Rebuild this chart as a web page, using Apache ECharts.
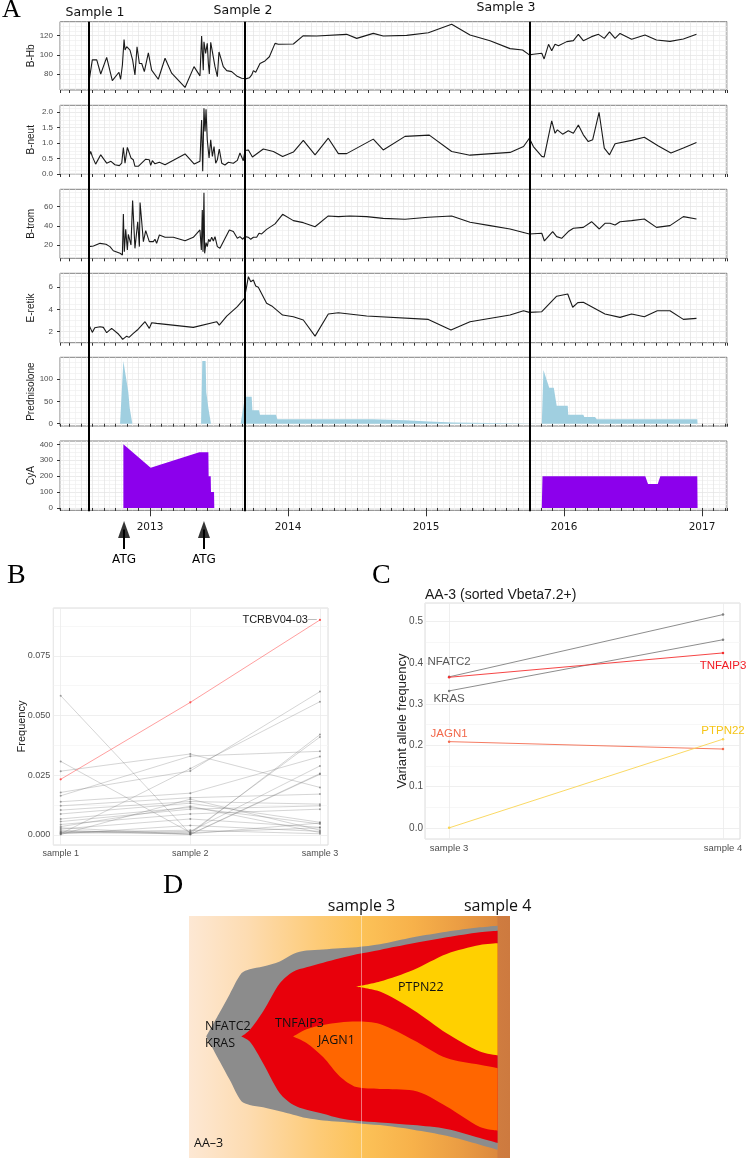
<!DOCTYPE html>
<html><head><meta charset="utf-8">
<script src="https://cdn.jsdelivr.net/npm/echarts@6/dist/echarts.min.js"></script>
<style>html,body{margin:0;padding:0;background:#fff}#c{width:748px;height:1159px}</style>
</head><body><div id="c"></div>
<script>
// ---------------- Panel A data (x = decimal year) ----------------
const hbData = [[2012.558,72],[2012.570,74],[2012.582,94.7],[2012.614,94.7],[2012.643,80],[2012.686,97.4],[2012.727,73],[2012.775,81.8],[2012.787,74.5],[2012.800,89.4],[2012.812,116],[2012.819,105],[2012.831,108.5],[2012.855,105],[2012.874,94.7],[2012.891,79],[2012.906,108.5],[2012.923,91],[2012.940,91],[2012.959,82.5],[2012.988,102],[2013.012,84],[2013.060,74.5],[2013.109,96.4],[2013.157,80.8],[2013.254,66],[2013.319,87.7],[2013.362,78],[2013.374,119.7],[2013.386,84],[2013.391,113.7],[2013.403,101.6],[2013.415,112],[2013.423,91],[2013.430,80],[2013.440,113],[2013.452,112],[2013.471,87.7],[2013.488,77.3],[2013.500,103],[2013.514,96.4],[2013.531,87.7],[2013.556,83.5],[2013.592,82.5],[2013.628,78],[2013.664,75.6],[2013.700,75.2],[2013.720,76],[2013.737,79],[2013.749,83.5],[2013.766,81.8],[2013.797,91],[2013.833,93.6],[2013.865,98],[2013.906,112],[2013.930,111],[2014.039,111.3],[2014.111,120],[2014.208,119.7],[2014.425,121.4],[2014.498,117.2],[2014.618,122.4],[2014.690,119.7],[2014.860,120.3],[2015.017,123],[2015.186,132],[2015.319,120.7],[2015.464,114.8],[2015.609,106.5],[2015.700,105],[2015.749,100],[2015.778,100.6],[2015.839,101.6],[2015.856,95.7],[2015.888,111],[2015.911,104.4],[2015.935,111],[2015.960,109.6],[2016.020,113.8],[2016.068,114.8],[2016.104,121.4],[2016.140,114.8],[2016.200,119],[2016.250,121.4],[2016.292,117.2],[2016.330,124],[2016.370,117.2],[2016.406,122.4],[2016.490,116.2],[2016.587,120.7],[2016.670,115.5],[2016.768,114.1],[2016.865,116.5],[2016.960,121.4]];
const neutData = [[2012.558,0.57],[2012.570,0.73],[2012.582,0.57],[2012.606,0.32],[2012.643,0.62],[2012.686,0.35],[2012.717,0.41],[2012.746,0.30],[2012.778,0.27],[2012.795,0.35],[2012.807,0.86],[2012.819,0.35],[2012.836,0.86],[2012.862,0.52],[2012.879,0.46],[2012.891,0.25],[2012.915,0.25],[2012.969,0.48],[2012.995,0.46],[2013.005,0.28],[2013.017,0.43],[2013.036,0.33],[2013.068,0.38],[2013.109,0.30],[2013.254,0.65],[2013.321,0.32],[2013.362,0.41],[2013.374,1.75],[2013.382,0.09],[2013.391,2.13],[2013.399,1.38],[2013.406,2.10],[2013.415,1.11],[2013.428,0.52],[2013.440,1.11],[2013.452,0.57],[2013.464,0.89],[2013.476,0.35],[2013.488,0.46],[2013.502,0.81],[2013.520,0.35],[2013.543,0.29],[2013.568,0.38],[2013.604,0.35],[2013.633,0.44],[2013.652,0.68],[2013.676,0.43],[2013.688,0.76],[2013.713,0.78],[2013.742,0.55],[2013.821,0.81],[2013.894,0.73],[2013.961,0.57],[2014.039,0.71],[2014.111,1.09],[2014.196,0.62],[2014.292,1.16],[2014.365,0.66],[2014.425,0.66],[2014.618,1.13],[2014.690,0.78],[2014.848,1.22],[2015.024,1.26],[2015.186,0.73],[2015.319,0.61],[2015.609,0.70],[2015.707,0.89],[2015.749,1.16],[2015.778,0.89],[2015.839,0.57],[2015.856,0.55],[2015.911,1.72],[2015.935,1.32],[2015.952,1.43],[2015.990,1.29],[2016.031,1.40],[2016.068,1.32],[2016.104,1.59],[2016.140,1.27],[2016.176,1.05],[2016.208,1.11],[2016.254,2.00],[2016.292,0.84],[2016.330,0.62],[2016.370,0.98],[2016.490,1.09],[2016.582,1.19],[2016.684,0.91],[2016.775,0.68],[2016.865,0.84],[2016.960,1.02]];
const tromData = [[2012.558,18.3],[2012.590,19],[2012.638,21.7],[2012.681,20.7],[2012.710,18.3],[2012.734,14],[2012.783,11.3],[2012.800,9.6],[2012.807,52.3],[2012.814,13],[2012.824,36.3],[2012.836,14.8],[2012.843,31],[2012.862,20],[2012.874,66.3],[2012.891,16.5],[2012.911,44.3],[2012.923,18.3],[2012.928,64.2],[2012.940,44.3],[2012.952,23.5],[2012.969,35],[2012.995,23.5],[2013.024,23.5],[2013.036,26],[2013.048,21.7],[2013.068,30.4],[2013.109,28],[2013.169,28],[2013.254,24.5],[2013.314,28],[2013.362,35.7],[2013.372,14.8],[2013.379,56.5],[2013.384,13],[2013.391,74.6],[2013.396,11.3],[2013.406,22.4],[2013.415,18.3],[2013.425,26],[2013.435,23.5],[2013.447,28],[2013.459,24.2],[2013.471,28.7],[2013.488,18.3],[2013.507,16.5],[2013.519,20],[2013.575,35.7],[2013.604,34],[2013.616,35.7],[2013.633,27],[2013.652,28.7],[2013.672,26],[2013.688,28.7],[2013.713,28],[2013.730,26],[2013.749,28],[2013.773,28],[2013.790,32.2],[2013.809,31.5],[2013.845,36.3],[2013.906,42],[2013.961,52],[2014.039,45.4],[2014.111,43.3],[2014.196,39],[2014.292,50.3],[2014.365,49.6],[2014.449,50.3],[2014.570,49.6],[2014.690,47.8],[2014.848,46.8],[2015.017,48.9],[2015.186,50.3],[2015.319,43.7],[2015.464,40.2],[2015.609,36.7],[2015.749,31.5],[2015.839,32.2],[2015.858,24.2],[2015.918,34],[2015.947,28.7],[2015.983,27],[2016.031,34],[2016.068,37.4],[2016.140,38.4],[2016.200,44.3],[2016.256,36.7],[2016.297,42.6],[2016.333,42.6],[2016.370,40.9],[2016.406,44.3],[2016.490,45.4],[2016.582,47.1],[2016.670,38.4],[2016.768,40.2],[2016.865,49.6],[2016.960,47.1]];
const retikData = [[2012.558,2.6],[2012.570,2.6],[2012.582,1.94],[2012.600,2.36],[2012.638,2.45],[2012.662,2.39],[2012.686,1.91],[2012.722,2.3],[2012.771,1.79],[2012.787,1.55],[2012.802,1.31],[2012.831,1.6],[2012.848,1.49],[2012.879,1.85],[2012.908,2.15],[2012.964,2.9],[2012.995,2.3],[2013.012,2.81],[2013.048,2.75],[2013.314,2.39],[2013.483,2.9],[2013.502,2.6],[2013.556,3.41],[2013.633,4.26],[2013.684,5.0],[2013.700,6.06],[2013.713,6.96],[2013.730,6.5],[2013.749,6.66],[2013.766,6.12],[2013.785,6.0],[2013.797,6.12],[2013.845,4.56],[2013.882,4.32],[2013.961,3.5],[2014.039,3.35],[2014.111,3.05],[2014.196,1.6],[2014.292,3.6],[2014.365,3.71],[2014.570,3.41],[2015.017,3.11],[2015.181,2.15],[2015.319,2.9],[2015.609,3.5],[2015.707,3.89],[2015.749,3.74],[2015.839,3.8],[2015.947,5.2],[2016.027,5.4],[2016.063,4.2],[2016.100,4.62],[2016.140,4.65],[2016.297,3.6],[2016.406,3.29],[2016.490,3.6],[2016.582,3.35],[2016.676,3.89],[2016.768,3.89],[2016.865,3.11],[2016.960,3.2]];
const predData = [[2012.783,0],[2012.807,140],[2012.819,140],[2012.843,70],[2012.853,35],[2012.862,35],[2012.872,0],[2013.370,0],[2013.379,140],[2013.403,140],[2013.408,70],[2013.418,70],[2013.423,35],[2013.430,35],[2013.442,0],[2013.657,0],[2013.688,60],[2013.737,60],[2013.742,30],[2013.790,30],[2013.797,20],[2013.913,20],[2013.923,10],[2014.614,10],[2014.623,7.5],[2014.848,7.5],[2014.850,5],[2015.020,5],[2015.022,2.5],[2015.198,2.5],[2015.200,0],[2015.839,0],[2015.851,120],[2015.893,80],[2015.926,80],[2015.947,40],[2016.027,40],[2016.031,20],[2016.140,20],[2016.147,15],[2016.225,15],[2016.237,10],[2016.966,10],[2016.968,0]];
const cyaData = [[2012.807,0],[2012.807,400],[2012.814,396],[2013.005,253],[2013.357,350],[2013.423,350],[2013.425,200],[2013.440,200],[2013.442,100],[2013.464,100],[2013.466,0],[2015.839,0],[2015.844,200],[2016.589,200],[2016.609,150],[2016.679,150],[2016.698,200],[2016.966,200],[2016.968,0]];
const sampleDates = [2012.558, 2013.684, 2015.754];
const sampleNames = ['Sample 1', 'Sample 2', 'Sample 3'];
const atgDates = [2012.812, 2013.391];
const yearTicks = [2013, 2014, 2015, 2016, 2017];

// ---------------- Panel B data ----------------
const freqCategories = ['sample 1', 'sample 2', 'sample 3'];
const freqS1 = [0.0583,0.0308,0.0267,0.0178,0.0005,0.0164,0.0139,0.0122,0.0104,0.0088,0.0067,0.0056,0.0044,0.0025,0.0010,0.0015,0.0008,0.0030,0.0020,0.0005,0.0012,0.0035,0.0002];
const freqS2 = [0.0005,0.0010,0.0339,0.0268,0.0278,0.0330,0.0175,0.0156,0.0140,0.0133,0.0115,0.0108,0.0088,0.0067,0.0005,0.0010,0.0015,0.0003,0.0002,0.0040,0.0020,0.0120,0.0150];
const freqS3 = [0.0050,0.0030,0.0199,0.0600,0.0558,0.0350,0.0328,0.0171,0.0129,0.0053,0.0046,0.0122,0.0108,0.0032,0.0420,0.0410,0.0289,0.0257,0.0254,0.0015,0.0005,0.0010,0.0020];
const tcrbvName = 'TCRBV04-03';
const tcrbvFreq = [0.0233, 0.0555, 0.0900];

// ---------------- Panel C data ----------------
const vafCategories = ['sample 3', 'sample 4'];
const vafGenes = ['NFATC2', 'KRAS', 'TNFAIP3', 'JAGN1', 'PTPN22'];
const vafS3 = [0.366, 0.332, 0.365, 0.209, 0.000];
const vafS4 = [0.517, 0.456, 0.424, 0.191, 0.215];

// ---------------- Panel D data (fish plot clone outlines, % of height) ----------------
const fishT = [1.860,1.958,2.032,2.118,2.179,2.277,2.400,2.498,2.596,2.718,2.841,2.963,3.135,3.380,3.625,3.870,4.000];
const grayLow    = [50.2,40.0,32.3,23.4,21.9,21.0,19.3,17.9,16.5,15.5,15.0,14.4,13.6,11.7,9.2,5.5,3.4];
const grayHigh   = [50.2,60.1,67.7,76.3,78.0,79.1,81.2,84.3,85.7,86.2,86.7,87.1,88.3,91.2,93.5,95.3,96.0];
const redLow     = [50.2,50.2,50.2,50.2,48.1,39.2,26.8,22.0,19.9,18.3,16.4,15.4,14.7,13.6,12.0,8.25,6.2];
const redHigh    = [50.2,50.2,50.2,50.2,52.9,60.5,72.2,77.0,78.8,80.7,82.5,84.2,86.0,88.7,91.2,93.3,93.9];
const orangeLow  = [50.2,50.2,50.2,50.2,50.2,50.2,50.2,50.2,47.5,41.7,33.7,29.3,28.5,27.9,21.3,12.8,11.3];
const orangeHigh = [50.2,50.2,50.2,50.2,50.2,50.2,50.2,50.2,53.2,55.0,56.0,56.4,55.4,48.8,41.3,38.5,37.1];
const yellowLow  = [70.8,70.8,70.8,70.8,70.8,70.8,70.8,70.8,70.8,70.8,70.8,70.8,68.8,61.2,51.6,44.0,42.4];
const yellowHigh = [70.8,70.8,70.8,70.8,70.8,70.8,70.8,70.8,70.8,70.8,70.8,70.8,72.9,77.7,84.3,88.0,88.7];
const cloneStart = {gray: 0, red: 3, orange: 7, yellow: 11};   // index of each clone's emergence
const fishSamples = [3, 4];
const fishSampleNames = ['sample 3', 'sample 4'];

// ================= build chart =================
const SANS = "'Liberation Sans', Arial, sans-serif";
const DJ = "'DejaVu Sans', sans-serif";
const OS = "'Open Sans', sans-serif";
const toM = t => (t - 2012) * 12;
const fishTs = t => t * 1e10;
const XMIN = 4.174, XMAX = 62.174;
const stepVals = (min, max, step) => {
  const out = [];
  for (let k = Math.ceil(min / step - 1e-9); k * step <= max + 1e-9; k++) out.push(+(k * step).toFixed(6));
  return out;
};

const aPanels = [
  {name: 'B-Hb', data: hbData, min: 63.3, max: 134.6, interval: 20, dec: 0},
  {name: 'B-neut', data: neutData, min: -0.01, max: 2.226, interval: 0.5, dec: 1},
  {name: 'B-trom', data: tromData, min: 6.1, max: 78.1, interval: 20, dec: 0},
  {name: 'E-retik', data: retikData, min: 1.01, max: 7.26, interval: 2, dec: 0},
  {name: 'Prednisolone', data: predData, min: -5.1, max: 148.2, interval: 50, dec: 0, fill: '#a0cfe0'},
  {name: 'CyA', data: cyaData, min: -14.5, max: 421, interval: 100, dec: 0, fill: '#8c00ec'}
];
const A_LAYOUT = [[21.7, 68.3], [105.3, 69], [189.3, 69], [273.3, 69.4], [357.3, 68.7], [441, 69.3]];

const grid = [], xAxis = [], yAxis = [], series = [];

A_LAYOUT.forEach(([top, h]) => grid.push({left: 60, width: 667, top, height: h, show: true, borderColor: '#7f7f7f', borderWidth: 1, backgroundColor: 'rgba(0,0,0,0)'}));
grid.push({left: 60, width: 667, top: 21.7, height: 489.5});           // 6 sample lines overlay
grid.push({left: 60, width: 667, top: 529.5, height: 19.5});           // 7 ATG arrows
grid.push({left: 53.3, width: 274.7, top: 608, height: 237, show: true, borderColor: '#dcdcdc', borderWidth: 1, backgroundColor: 'rgba(0,0,0,0)'}); // 8 B
grid.push({left: 425, width: 315, top: 603, height: 236, show: true, borderColor: '#dcdcdc', borderWidth: 1, backgroundColor: 'rgba(0,0,0,0)'});  // 9 C
grid.push({left: 189, width: 321, top: 916, height: 242, show: true, borderWidth: 0,
  backgroundColor: new echarts.graphic.LinearGradient(0, 0, 1, 0, [
    {offset: 0, color: '#fde8d4'}, {offset: 0.18, color: '#fddcb2'}, {offset: 0.4, color: '#fdcb78'},
    {offset: 0.54, color: '#fcc258'}, {offset: 0.7, color: '#f7b14a'}, {offset: 0.85, color: '#ea9c43'},
    {offset: 0.9605, color: '#dc893e'}, {offset: 0.9615, color: '#cf7c40'}, {offset: 1, color: '#cd7a3f'}])}); // 10 D

// Panel A axes
aPanels.forEach((p, i) => {
  xAxis.push({type: 'value', gridIndex: i, min: XMIN, max: XMAX, minInterval: 1, maxInterval: 1,
    axisLine: {show: false}, axisTick: {show: true, length: 3, lineStyle: {color: '#333', width: 1}},
    axisLabel: {show: false},
    splitLine: {show: true, lineStyle: {color: '#e3e3e3', width: 0.7}},
    minorTick: {show: false, splitNumber: 2},
    minorSplitLine: {show: true, lineStyle: {color: '#efefef', width: 0.7}}});
  const lv = stepVals(p.min, p.max, p.interval);
  yAxis.push({type: 'value', gridIndex: i, min: p.min, max: p.max, minInterval: p.interval, maxInterval: p.interval,
    axisLine: {show: false}, axisTick: {show: true, length: 3, customValues: lv, lineStyle: {color: '#333'}},
    axisLabel: {customValues: lv, margin: 7, fontFamily: SANS, fontSize: 8, color: '#4d4d4d',
      formatter: v => v.toFixed(p.dec)},
    splitLine: {show: true, lineStyle: {color: '#e3e3e3', width: 0.7}},
    minorTick: {show: false, splitNumber: 4},
    minorSplitLine: {show: true, lineStyle: {color: '#efefef', width: 0.7}},
    name: p.name, nameLocation: 'middle', nameGap: 24, nameMoveOverlap: false,
    nameTextStyle: {fontFamily: SANS, fontSize: 10, color: '#1a1a1a'}});
  series.push({type: 'line', xAxisIndex: i, yAxisIndex: i,
    data: p.data.map(d => [toM(d[0]), d[1]]), symbol: 'none', showSymbol: false, silent: true,
    lineStyle: p.fill ? {width: 0} : {color: '#1a1a1a', width: 1.1},
    areaStyle: p.fill ? {color: p.fill, opacity: 1} : undefined});
});
// 6: year ticks + labels on bottom panel
const yearM = yearTicks.map(y => toM(y));
xAxis.push({type: 'value', gridIndex: 5, position: 'bottom', min: XMIN, max: XMAX, minInterval: 12, maxInterval: 12,
  axisLine: {show: false}, splitLine: {show: false},
  axisTick: {show: true, length: 6, customValues: yearM, lineStyle: {color: '#333'}},
  axisLabel: {show: true, customValues: yearM, margin: 11, fontFamily: DJ, fontSize: 10.5, color: '#1a1a1a',
    formatter: v => (Math.abs(v / 12 - Math.round(v / 12)) < 1e-6 ? String(2012 + Math.round(v / 12)) : '')}});
// 7: overlay x, 8: ATG x
xAxis.push({type: 'value', gridIndex: 6, min: XMIN, max: XMAX, show: false});
xAxis.push({type: 'value', gridIndex: 7, min: XMIN, max: XMAX, show: false});
yAxis.push({type: 'value', gridIndex: 6, min: 0, max: 1, show: false});
yAxis.push({type: 'value', gridIndex: 7, min: 0, max: 1, show: false});

series.push({type: 'line', xAxisIndex: 7, yAxisIndex: 6, data: [], silent: true, z: 10,
  markLine: {silent: true, symbol: ['none', 'none'], label: {show: false},
    lineStyle: {color: '#000', width: 2, type: 'solid'},
    data: sampleDates.map(t => ({xAxis: toM(t)}))}});
series.push({type: 'scatter', xAxisIndex: 8, yAxisIndex: 7, silent: true, z: 10,
  data: atgDates.map(t => [toM(t), 1]), symbol: 'triangle', symbolSize: [12, 17], itemStyle: {color: '#000'},
  markLine: {silent: true, symbol: ['none', 'none'], lineStyle: {color: '#000', width: 2, type: 'solid'},
    label: {show: true, position: 'start', distance: 5, formatter: 'ATG', fontFamily: DJ, fontSize: 12, color: '#000'},
    data: atgDates.map(t => [{coord: [toM(t), 0]}, {coord: [toM(t), 1]}])}});

// Panel B axes (x index 9, y index 8)
xAxis.push({type: 'value', gridIndex: 8, min: 0.943, max: 3.062, minInterval: 1, maxInterval: 1,
  axisLine: {show: false}, axisTick: {show: false},
  axisLabel: {customValues: [1, 2, 3], margin: 4, fontFamily: SANS, fontSize: 9, color: '#4d4d4d',
    formatter: v => (Number.isInteger(v) ? freqCategories[v - 1] : '')},
  splitLine: {show: true, lineStyle: {color: '#ebebeb', width: 0.8}}});
yAxis.push({type: 'value', gridIndex: 8, min: -0.0042, max: 0.095, minInterval: 0.025, maxInterval: 0.025,
  axisLine: {show: false}, axisTick: {show: false},
  axisLabel: {customValues: stepVals(-0.0042, 0.095, 0.025), margin: 3, fontFamily: SANS, fontSize: 9, color: '#4d4d4d', formatter: v => v.toFixed(3)},
  splitLine: {show: true, lineStyle: {color: '#ebebeb', width: 0.8}},
  minorTick: {show: false, splitNumber: 2}, minorSplitLine: {show: true, lineStyle: {color: '#f5f5f5', width: 0.8}},
  name: 'Frequency', nameLocation: 'middle', nameGap: 26, nameMoveOverlap: false,
  nameTextStyle: {fontFamily: SANS, fontSize: 11, color: '#222'}});
freqS1.forEach((v, i) => {
  series.push({type: 'line', xAxisIndex: 9, yAxisIndex: 8, silent: true,
    data: [[1, freqS1[i]], [2, freqS2[i]], [3, freqS3[i]]], symbol: 'circle', symbolSize: 2,
    lineStyle: {color: 'rgba(110,110,110,0.42)', width: 0.7}, itemStyle: {color: 'rgba(100,100,100,0.6)'}});
});
series.push({type: 'line', xAxisIndex: 9, yAxisIndex: 8, silent: true, z: 5,
  data: tcrbvFreq.map((v, i) => {
    const item = {value: [i + 1, v]};
    if (i === 2) item.label = {show: true, position: 'left', distance: 2,
      formatter: '{a|' + tcrbvName + '}{b|—}',
      rich: {a: {fontFamily: SANS, fontSize: 11, color: '#1a1a1a'}, b: {fontFamily: SANS, fontSize: 9, color: '#9a9a9a'}}};
    return item;
  }), symbol: 'circle', symbolSize: 2.2,
  lineStyle: {color: 'rgba(255,70,70,0.65)', width: 0.8}, itemStyle: {color: '#ff5050'}});

// Panel C axes (x index 10, y index 9)
xAxis.push({type: 'value', gridIndex: 9, min: 2.912, max: 4.062, minInterval: 1, maxInterval: 1,
  axisLine: {show: false}, axisTick: {show: false},
  axisLabel: {customValues: [3, 4], margin: 4, fontFamily: SANS, fontSize: 9.5, color: '#4d4d4d',
    formatter: v => (Number.isInteger(v) ? vafCategories[v - 3] : '')},
  splitLine: {show: true, lineStyle: {color: '#ebebeb', width: 0.8}}});
yAxis.push({type: 'value', gridIndex: 9, min: -0.027, max: 0.545, minInterval: 0.1, maxInterval: 0.1,
  axisLine: {show: false}, axisTick: {show: false},
  axisLabel: {customValues: stepVals(-0.027, 0.545, 0.1), margin: 2, fontFamily: SANS, fontSize: 10, color: '#4d4d4d', formatter: v => v.toFixed(1)},
  splitLine: {show: true, lineStyle: {color: '#ebebeb', width: 0.8}},
  minorTick: {show: false, splitNumber: 2}, minorSplitLine: {show: true, lineStyle: {color: '#f5f5f5', width: 0.8}},
  name: 'Variant allele frequency', nameLocation: 'middle', nameGap: 16, nameMoveOverlap: false,
  nameTextStyle: {fontFamily: SANS, fontSize: 13, color: '#222'}});
const vafStyle = [
  {line: '#808080', text: '#595959', at: 0, pos: 'top', dist: 7.5},
  {line: '#808080', text: '#595959', at: 0, pos: 'bottom', dist: 1},
  {line: '#f43030', text: '#f21d25', at: 1, pos: 'bottom', dist: 5.5},
  {line: '#f46c50', text: '#f2694c', at: 0, pos: 'top', dist: 0.5},
  {line: '#f9d552', text: '#f5c518', at: 1, pos: 'top', dist: 1}
];
vafGenes.forEach((g, i) => {
  const s = vafStyle[i];
  series.push({type: 'line', xAxisIndex: 10, yAxisIndex: 9, silent: true, z: i === 2 ? 6 : 4,
    data: [vafS3[i], vafS4[i]].map((v, k) => {
      const item = {value: [3 + k, v]};
      if (k === s.at) item.label = {show: true, position: s.pos, distance: s.dist, formatter: g,
        fontFamily: SANS, fontSize: 11.5, color: s.text};
      return item;
    }), symbol: 'circle', symbolSize: 2.5,
    lineStyle: {color: s.line, width: 0.9}, itemStyle: {color: s.line}});
});

// Panel D axes (x index 11 time for stacking, x index 12 for header labels, y index 10)
xAxis.push({type: 'time', gridIndex: 10, min: fishTs(1.733), max: fishTs(4.0907), show: false});
xAxis.push({type: 'value', gridIndex: 10, min: 1.733, max: 4.0907, position: 'top', minInterval: 1, maxInterval: 1,
  axisLine: {show: false}, axisTick: {show: false}, splitLine: {show: false},
  axisLabel: {customValues: fishSamples, margin: 2, fontFamily: OS, fontSize: 16, color: '#111',
    formatter: v => (Number.isInteger(v) ? fishSampleNames[v - 3] : '')}});
yAxis.push({type: 'value', gridIndex: 10, min: 0, max: 100, show: false});
// nested clones: each drawn as one band (low edge + thickness), painted outer -> inner
const clones = [
  {key: 'gray', low: grayLow, high: grayHigh, color: '#8c8c8c'},
  {key: 'red', low: redLow, high: redHigh, color: '#e8000b'},
  {key: 'orange', low: orangeLow, high: orangeHigh, color: '#ff6600'},
  {key: 'yellow', low: yellowLow, high: yellowHigh, color: '#ffd000'}
];
clones.forEach((c, ci) => {
  const s0 = cloneStart[c.key];
  const idx = fishT.map((t, i) => i).filter(i => i >= s0);
  series.push({type: 'line', xAxisIndex: 11, yAxisIndex: 10, stack: 'clone_' + c.key, silent: true, symbol: 'none',
    smooth: 0.3, lineStyle: {width: 0, opacity: 0}, z: 2 + ci,
    data: idx.map(i => [fishTs(fishT[i]), c.low[i]]),
    markLine: ci === 0 ? {silent: true, symbol: ['none', 'none'], label: {show: false},
      lineStyle: {color: 'rgba(255,255,255,0.45)', width: 1, type: 'solid'},
      data: [{xAxis: fishTs(fishSamples[0])}]} : undefined});
  series.push({type: 'line', xAxisIndex: 11, yAxisIndex: 10, stack: 'clone_' + c.key, silent: true, symbol: 'none',
    smooth: 0.3, lineStyle: {width: 0}, areaStyle: {color: c.color, opacity: 1}, z: 2 + ci,
    data: idx.map(i => [fishTs(fishT[i]), +(c.high[i] - c.low[i]).toFixed(3)])});
});

// annotation texts
const txt = (text, x, y, font, align, fill) => ({type: 'text', x, y, z: 100, silent: true,
  style: {text, font, fill: fill || '#000', align: align || 'left', verticalAlign: 'middle'}});
const graphic = [
  txt('A', 2, 10.5, '26px "Liberation Serif"'),
  txt('B', 7, 575.5, '28px "Liberation Serif"'),
  txt('C', 372, 575.5, '28px "Liberation Serif"'),
  txt('D', 163, 886, '28px "Liberation Serif"'),
  txt(sampleNames[0], 95, 12.5, '12.5px "DejaVu Sans"', 'center', '#111'),
  txt(sampleNames[1], 243, 11, '12.5px "DejaVu Sans"', 'center', '#111'),
  txt(sampleNames[2], 506, 7.5, '12.5px "DejaVu Sans"', 'center', '#111'),
  txt('AA-3 (sorted Vbeta7.2+)', 425, 595, '14px "Liberation Sans"', 'left', '#1a1a1a'),
  txt('NFATC2', 205, 1026.7, '12.5px "Open Sans"', 'left', '#111'),
  txt('KRAS', 205, 1043, '12.5px "Open Sans"', 'left', '#111'),
  txt('TNFAIP3', 275, 1023.3, '12.5px "Open Sans"', 'left', '#111'),
  txt('JAGN1', 318, 1040.7, '12.5px "Open Sans"', 'left', '#111'),
  txt('PTPN22', 398, 987.7, '12.5px "Open Sans"', 'left', '#111'),
  txt('AA–3', 194, 1143, '12.5px "Open Sans"', 'left', '#111')
];

const chart = echarts.init(document.getElementById('c'), null, {renderer: 'canvas'});
chart.setOption({animation: false, backgroundColor: '#fff', grid, xAxis, yAxis, series, graphic});
</script></body></html>
